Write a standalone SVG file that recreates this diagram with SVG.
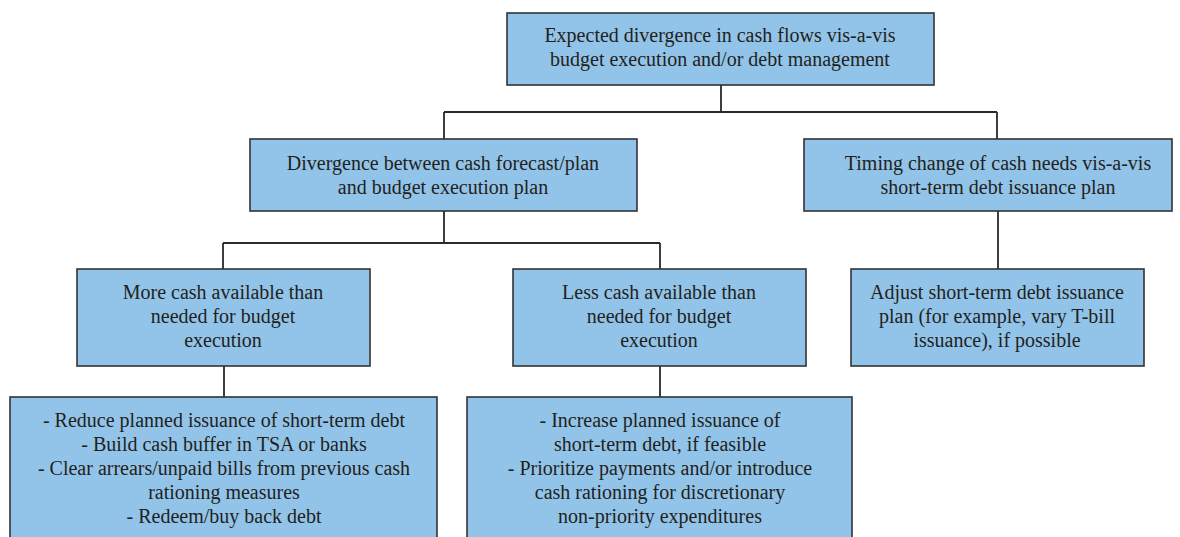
<svg xmlns="http://www.w3.org/2000/svg" width="1180" height="537" viewBox="0 0 1180 537">
<style>
.box{fill:#92C4E9;stroke:#333;stroke-width:1.6}
.t{font-family:"Liberation Serif","Times New Roman",serif;font-size:20px;fill:#231f20;text-anchor:middle}
.c{stroke:#2a2a2a;stroke-width:1.8;fill:none}
</style>
<rect width="1180" height="537" fill="#fff"/>
<g id="connectors">
<path class="c" d="M721 85V112M444 112H997M444 112V139M997 112V139"/>
<path class="c" d="M444 211V243M223 243H660M223 243V269M660 243V269"/>
<path class="c" d="M998 211V269"/>
<path class="c" d="M224 366V397M660 366V397"/>
</g>
<g id="n-root">
<rect class="box" x="507" y="13" width="427" height="72"/>
<text class="t" x="720" y="42">Expected divergence in cash flows vis-a-vis</text>
<text class="t" x="720" y="66">budget execution and/or debt management</text>
</g>
<g id="n-divergence">
<rect class="box" x="250" y="139" width="387" height="72"/>
<text class="t" x="443" y="170">Divergence between cash forecast/plan</text>
<text class="t" x="443" y="194">and budget execution plan</text>
</g>
<g id="n-timing">
<rect class="box" x="804" y="139" width="368" height="72"/>
<text class="t" x="998" y="170">Timing change of cash needs vis-a-vis</text>
<text class="t" x="998" y="194">short-term debt issuance plan</text>
</g>
<g id="n-more">
<rect class="box" x="77" y="269" width="293" height="97"/>
<text class="t" x="223" y="299">More cash available than</text>
<text class="t" x="223" y="323">needed for budget</text>
<text class="t" x="223" y="347">execution</text>
</g>
<g id="n-less">
<rect class="box" x="513" y="269" width="293" height="97"/>
<text class="t" x="659" y="299">Less cash available than</text>
<text class="t" x="659" y="323">needed for budget</text>
<text class="t" x="659" y="347">execution</text>
</g>
<g id="n-adjust">
<rect class="box" x="851" y="269" width="293" height="97"/>
<text class="t" x="997" y="299">Adjust short-term debt issuance</text>
<text class="t" x="997" y="323">plan (for example, vary T-bill</text>
<text class="t" x="997" y="347">issuance), if possible</text>
</g>
<g id="n-more-actions">
<rect class="box" x="10" y="397" width="427" height="150"/>
<text class="t" x="224" y="427">- Reduce planned issuance of short-term debt</text>
<text class="t" x="224" y="451">- Build cash buffer in TSA or banks</text>
<text class="t" x="224" y="475">- Clear arrears/unpaid bills from previous cash</text>
<text class="t" x="224" y="499">rationing measures</text>
<text class="t" x="224" y="523">- Redeem/buy back debt</text>
</g>
<g id="n-less-actions">
<rect class="box" x="467" y="397" width="385" height="150"/>
<text class="t" x="660" y="427">- Increase planned issuance of</text>
<text class="t" x="660" y="451">short-term debt, if feasible</text>
<text class="t" x="660" y="475">- Prioritize payments and/or introduce</text>
<text class="t" x="660" y="499">cash rationing for discretionary</text>
<text class="t" x="660" y="523">non-priority expenditures</text>
</g>
</svg>
